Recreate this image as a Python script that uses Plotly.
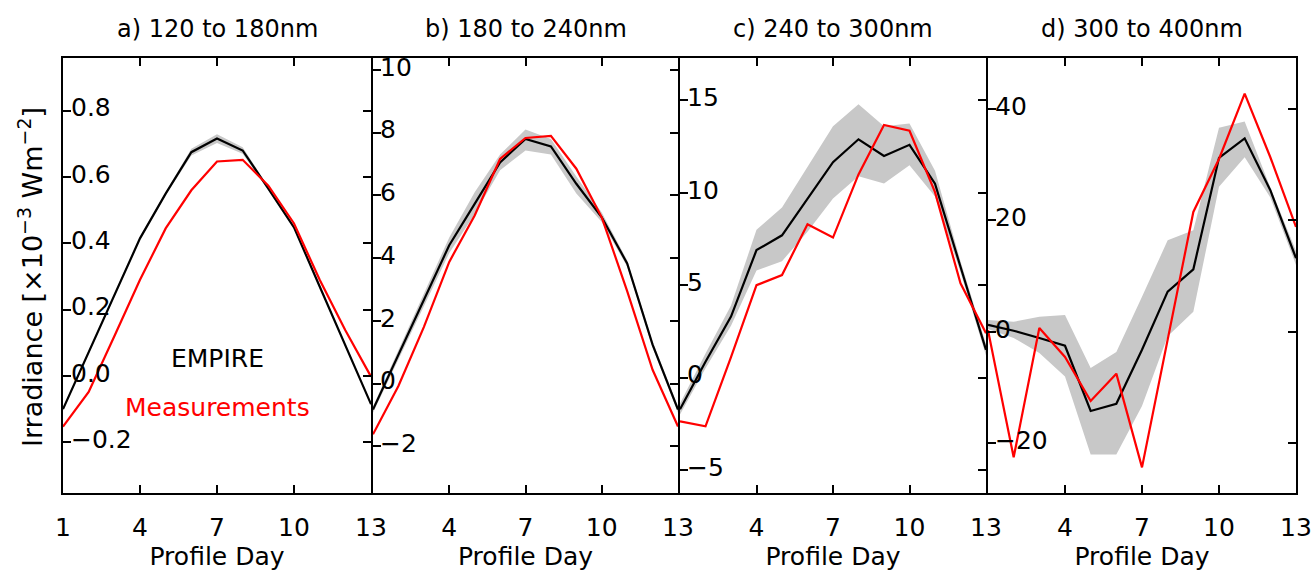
import plotly.graph_objects as go

W, H = 1315, 573

days = list(range(1, 14))

# Panel a) 120 to 180nm
a_empire = [-0.10, 0.07, 0.245, 0.415, 0.55, 0.675, 0.716, 0.68, 0.565, 0.448, 0.27, 0.095, -0.085]
a_meas = [-0.153, -0.048, 0.12, 0.29, 0.445, 0.56, 0.647, 0.652, 0.574, 0.46, 0.29, 0.138, -0.002]
a_lo = [-0.105, 0.065, 0.24, 0.41, 0.545, 0.665, 0.703, 0.67, 0.56, 0.443, 0.265, 0.09, -0.09]
a_hi = [-0.095, 0.075, 0.25, 0.42, 0.555, 0.685, 0.729, 0.69, 0.57, 0.453, 0.275, 0.10, -0.08]

# Panel b) 180 to 240nm
b_empire = [-0.83, 0.9, 2.67, 4.41, 5.73, 7.05, 7.8, 7.56, 6.37, 5.3, 3.83, 1.24, -0.83]
b_meas = [-1.62, -0.08, 1.8, 3.88, 5.36, 7.16, 7.83, 7.9, 6.85, 5.3, 2.95, 0.44, -1.37]
b_lo = [-0.93, 0.75, 2.47, 4.16, 5.4, 6.8, 7.43, 7.3, 6.06, 5.15, 3.73, 1.14, -0.93]
b_hi = [-0.73, 1.05, 2.87, 4.66, 6.1, 7.3, 8.1, 7.8, 6.6, 5.45, 3.93, 1.34, -0.73]

# Panel c) 240 to 300nm
c_empire = [-1.72, 0.86, 3.3, 6.9, 7.7, 9.68, 11.66, 12.9, 12.0, 12.6, 10.5, 6.0, 1.5]
c_meas = [-2.37, -2.64, 1.1, 5.0, 5.55, 8.3, 7.58, 11.0, 13.67, 13.36, 10.04, 5.1, 2.4]
c_lo = [-2.0, 0.5, 2.8, 5.8, 6.3, 7.9, 9.7, 10.9, 10.5, 11.5, 9.8, 5.7, 1.2]
c_hi = [-1.4, 1.3, 3.9, 8.0, 9.2, 11.4, 13.6, 14.8, 13.6, 13.75, 11.2, 6.3, 1.8]

# Panel d) 300 to 400nm
d_empire = [1.25, 0.2, -1.1, -2.5, -14.2, -12.9, -3.2, 7.2, 11.2, 31.2, 34.7, 25.4, 13.2]
d_meas = [0.3, -22.5, 0.7, -4.5, -12.4, -7.5, -24.3, -1.4, 21.5, 31.0, 42.7, 31.3, 18.8]
d_lo = [0.5, -1.1, -3.8, -8.0, -22.0, -22.0, -13.3, -0.8, 3.6, 26.0, 31.3, 24.1, 12.0]
d_hi = [2.1, 1.8, 2.7, 3.0, -6.5, -3.6, 6.3, 16.4, 18.2, 36.6, 37.7, 25.9, 14.5]

titles = ["a) 120 to 180nm", "b) 180 to 240nm", "c) 240 to 300nm", "d) 300 to 400nm"]
y_ranges = [[-0.353, 0.959], [-3.49, 10.38], [-6.25, 17.3], [-28.9, 49.1]]
y_ticks = [[-0.2, 0.0, 0.2, 0.4, 0.6, 0.8], [-2, 0, 2, 4, 6, 8, 10],
           [-5, 0, 5, 10, 15], [-20, 0, 20, 40]]
y_formats = [".1f", "d", "d", "d"]
x_tickvals_first = [1, 4, 7, 10, 13]
x_tickvals_rest = [4, 7, 10, 13]

panel_data = [
    (a_empire, a_meas, a_lo, a_hi),
    (b_empire, b_meas, b_lo, b_hi),
    (c_empire, c_meas, c_lo, c_hi),
    (d_empire, d_meas, d_lo, d_hi),
]

# layout geometry (pixels)
x_edges = [63, 372, 679, 987, 1296]
plot_top, plot_bottom = 57, 494
LW = 2.0
ydom = [1 - (plot_bottom - LW / 2) / H, 1 - (plot_top + LW / 2) / H]

FONT = "DejaVu Sans"
GREY = "#c8c8c8"

fig = go.Figure()
layout = dict(
    width=W, height=H,
    margin=dict(l=0, r=0, t=0, b=0),
    paper_bgcolor="white", plot_bgcolor="white",
    showlegend=False,
    font=dict(family=FONT, color="black"),
)

annotations = []
for i, (emp, meas, lo, hi) in enumerate(panel_data):
    n = i + 1
    xs = "x" if n == 1 else f"x{n}"
    ys = "y" if n == 1 else f"y{n}"
    lab = f"y{n + 4}"
    fig.add_trace(go.Scatter(x=days, y=lo, xaxis=xs, yaxis=ys, mode="lines",
                             line=dict(width=0, color=GREY), hoverinfo="skip"))
    fig.add_trace(go.Scatter(x=days, y=hi, xaxis=xs, yaxis=ys, mode="lines",
                             line=dict(width=0, color=GREY), fill="tonexty",
                             fillcolor=GREY, hoverinfo="skip"))
    fig.add_trace(go.Scatter(x=days, y=emp, xaxis=xs, yaxis=ys, mode="lines",
                             line=dict(color="black", width=2.2), name="EMPIRE"))
    fig.add_trace(go.Scatter(x=days, y=meas, xaxis=xs, yaxis=ys, mode="lines",
                             line=dict(color="red", width=2.2), name="Measurements"))
    # invisible trace carrying the tick-label axis
    fig.add_trace(go.Scatter(x=days, y=emp, xaxis=xs, yaxis=lab, mode="lines",
                             line=dict(width=0, color="rgba(0,0,0,0)"),
                             hoverinfo="skip"))

    left = x_edges[i] + (LW / 2 if i > 0 else 0)
    right = x_edges[i + 1] - (LW / 2 if i < 3 else 0)
    x0, x1 = left / W, right / W
    tv = x_tickvals_first if n == 1 else x_tickvals_rest
    xkey = "xaxis" if n == 1 else f"xaxis{n}"
    ykey = "yaxis" if n == 1 else f"yaxis{n}"
    layout[xkey] = dict(
        domain=[x0, x1], anchor=ys, range=[1, 13],
        showline=True, linecolor="black", linewidth=LW, mirror="ticks",
        ticks="inside", ticklen=8, tickwidth=2, tickcolor="black",
        tickvals=tv, ticktext=[str(v) for v in tv],
        tickfont=dict(size=25, family=FONT, color="black"),
        ticklabelstandoff=11,
        showgrid=False, zeroline=False, automargin=False,
        title=dict(text="Profile Day", font=dict(size=25, family=FONT, color="black"),
                   standoff=3),
    )
    layout[ykey] = dict(
        domain=ydom, anchor=xs, range=y_ranges[i],
        showline=True, linecolor="black", linewidth=LW, mirror="ticks",
        ticks="inside", ticklen=8, tickwidth=2, tickcolor="black",
        tickvals=y_ticks[i], showticklabels=False,
        showgrid=False, zeroline=False, automargin=False,
    )
    layout[f"yaxis{n + 4}"] = dict(
        overlaying=ys, anchor="free", position=x_edges[i] / W, side="right",
        range=y_ranges[i], tickvals=y_ticks[i], tickformat=y_formats[i],
        ticks="", showline=False, showgrid=False, zeroline=False,
        tickfont=dict(size=25, family=FONT, color="black"),
        ticklabelstandoff=7, ticklabelshift=-3, automargin=False,
    )
    annotations.append(dict(
        text=titles[i], xref="paper", yref="paper",
        x=(x_edges[i] + x_edges[i + 1]) / 2 / W, y=1 - 29 / H,
        xanchor="center", yanchor="middle", showarrow=False,
        font=dict(size=24, family=FONT, color="black")))

annotations.append(dict(
    text="Irradiance [×10<sup>−3</sup> Wm<sup>−2</sup>]", xref="paper", yref="paper",
    x=30 / W, y=1 - 277 / H, xanchor="center", yanchor="middle", textangle=-90,
    showarrow=False, font=dict(size=27, family=FONT, color="black")))
annotations.append(dict(
    text="EMPIRE", xref="x", yref="paper", x=7, y=1 - 358 / H,
    xanchor="center", yanchor="middle", showarrow=False,
    font=dict(size=25, family=FONT, color="black")))
annotations.append(dict(
    text="Measurements", xref="x", yref="paper", x=7, y=1 - 407 / H,
    xanchor="center", yanchor="middle", showarrow=False,
    font=dict(size=25, family=FONT, color="red")))

layout["annotations"] = annotations
fig.update_layout(**layout)
fig.write_html("out.html", config={"displayModeBar": False},
               post_script="document.body.style.margin='0px';")
